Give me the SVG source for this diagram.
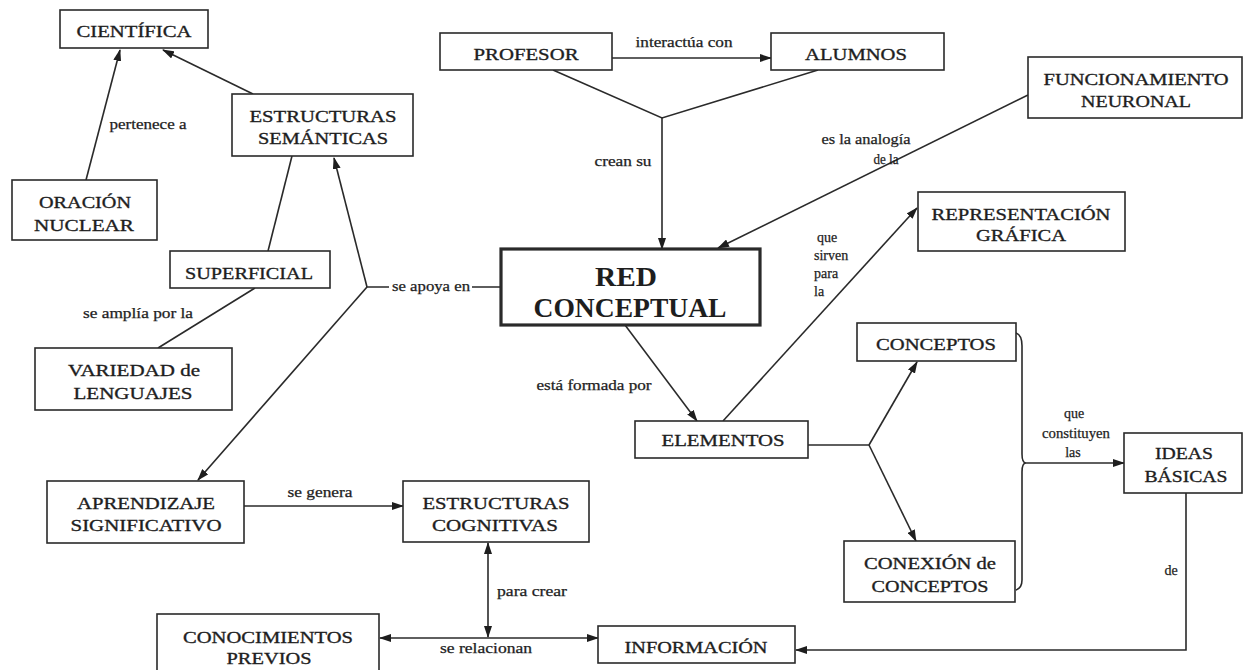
<svg xmlns="http://www.w3.org/2000/svg" width="1244" height="670" viewBox="0 0 1244 670">
<style>
.box{fill:#fff;stroke:#2a2a2a;stroke-width:1.6}
.thick{stroke-width:3.2}
.e{fill:none;stroke:#2a2a2a;stroke-width:1.6}
.a{marker-end:url(#ah)}
.b{marker-start:url(#ah);marker-end:url(#ah)}
text{font-family:"Liberation Serif","Times New Roman",serif;fill:#1e1e1e}
.n{font-size:17.5px;text-anchor:middle;stroke:#1e1e1e;stroke-width:0.35}
.r{font-size:27px;font-weight:bold;text-anchor:middle}
.l{font-size:14px;stroke:#1e1e1e;stroke-width:0.25}
.c{text-anchor:middle}
</style>
<defs>
<marker id="ah" markerUnits="userSpaceOnUse" markerWidth="12" markerHeight="8" refX="11" refY="4" orient="auto-start-reverse" viewBox="0 0 12 8">
<path d="M0,0 L12,4 L0,8 z" fill="#1e1e1e"/>
</marker>
</defs>

<g id="connectors">
<path class="e a" d="M86,180 L120,50"/>
<path class="e a" d="M253,94 L163,50"/>
<path class="e" d="M268,251 L292,156"/>
<path class="e" d="M255,288 L158,348"/>
<path class="e a" d="M367,287 L334,158"/>
<path class="e a" d="M367,287 L198,480"/>
<path class="e" d="M367,287 L389,287 M472,287 L501,287"/>
<path class="e a" d="M612,58 L771,58"/>
<path class="e" d="M553,70 L662,118 L818,70"/>
<path class="e a" d="M662,118 L662,249"/>
<path class="e a" d="M1028,95 L718,248"/>
<path class="e a" d="M723,421 L917,208"/>
<path class="e a" d="M625,325 L697,421"/>
<path class="e" d="M808,445 L869,445"/>
<path class="e a" d="M869,445 L917,362"/>
<path class="e a" d="M869,445 L916,541"/>
<path class="e" d="M1016,333 Q1022,335 1022,346 L1022,454 Q1022,463 1026,463 Q1022,463 1022,472 L1022,580 Q1022,588 1016,590"/>
<path class="e a" d="M1026,463 L1124,463"/>
<path class="e a" d="M1186,493 L1186,650 L796,650"/>
<path class="e a" d="M244,506 L403,506"/>
<path class="e b" d="M488,543 L488,637"/>
<path class="e b" d="M380,638 L598,638"/>
</g>

<g id="labels">
<text class="l c" x="148" y="129" textLength="77" lengthAdjust="spacingAndGlyphs">pertenece a</text>
<text class="l c" x="684" y="47" textLength="97" lengthAdjust="spacingAndGlyphs">interactúa con</text>
<text class="l c" x="623" y="166" textLength="57" lengthAdjust="spacingAndGlyphs">crean su</text>
<text class="l c" x="866" y="144" textLength="89" lengthAdjust="spacingAndGlyphs">es la analogía</text>
<text class="l c" x="886" y="164" textLength="25" lengthAdjust="spacingAndGlyphs">de la</text>
<text class="l" x="817" y="242">que</text>
<text class="l" x="814" y="260">sirven</text>
<text class="l" x="814" y="278">para</text>
<text class="l" x="814" y="296">la</text>
<text class="l c" x="431" y="291" textLength="78" lengthAdjust="spacingAndGlyphs">se apoya en</text>
<text class="l c" x="138" y="318" textLength="110" lengthAdjust="spacingAndGlyphs">se amplía por la</text>
<text class="l c" x="594" y="390" textLength="115" lengthAdjust="spacingAndGlyphs">está formada por</text>
<text class="l c" x="1074" y="418">que</text>
<text class="l c" x="1076" y="438" textLength="68" lengthAdjust="spacingAndGlyphs">constituyen</text>
<text class="l c" x="1073" y="457">las</text>
<text class="l c" x="320" y="497" textLength="65" lengthAdjust="spacingAndGlyphs">se genera</text>
<text class="l c" x="532" y="596" textLength="70" lengthAdjust="spacingAndGlyphs">para crear</text>
<text class="l c" x="486" y="653" textLength="92" lengthAdjust="spacingAndGlyphs">se relacionan</text>
<text class="l c" x="1171" y="575">de</text>
</g>

<g id="n-cientifica"><rect class="box" x="60" y="10" width="148" height="38"/><text class="n" x="134" y="37" textLength="115" lengthAdjust="spacingAndGlyphs">CIENTÍFICA</text></g>
<g id="n-estr-sem"><rect class="box" x="232" y="94" width="181" height="62"/><text class="n" x="323" y="122" textLength="147" lengthAdjust="spacingAndGlyphs">ESTRUCTURAS</text><text class="n" x="323" y="144" textLength="130" lengthAdjust="spacingAndGlyphs">SEMÁNTICAS</text></g>
<g id="n-oracion"><rect class="box" x="12" y="180" width="145" height="60"/><text class="n" x="85" y="208" textLength="92" lengthAdjust="spacingAndGlyphs">ORACIÓN</text><text class="n" x="84" y="231" textLength="100" lengthAdjust="spacingAndGlyphs">NUCLEAR</text></g>
<g id="n-superficial"><rect class="box" x="170" y="251" width="160" height="37"/><text class="n" x="249" y="279" textLength="128" lengthAdjust="spacingAndGlyphs">SUPERFICIAL</text></g>
<g id="n-variedad"><rect class="box" x="35" y="348" width="197" height="62"/><text class="n" x="134" y="376" textLength="132" lengthAdjust="spacingAndGlyphs">VARIEDAD de</text><text class="n" x="133" y="399" textLength="119" lengthAdjust="spacingAndGlyphs">LENGUAJES</text></g>
<g id="n-profesor"><rect class="box" x="440" y="33" width="172" height="37"/><text class="n" x="526" y="60" textLength="105" lengthAdjust="spacingAndGlyphs">PROFESOR</text></g>
<g id="n-alumnos"><rect class="box" x="771" y="33" width="173" height="37"/><text class="n" x="856" y="60" textLength="102" lengthAdjust="spacingAndGlyphs">ALUMNOS</text></g>
<g id="n-funcionamiento"><rect class="box" x="1028" y="57" width="214" height="61"/><text class="n" x="1136" y="85" textLength="185" lengthAdjust="spacingAndGlyphs">FUNCIONAMIENTO</text><text class="n" x="1136" y="107" textLength="110" lengthAdjust="spacingAndGlyphs">NEURONAL</text></g>
<g id="n-representacion"><rect class="box" x="918" y="192" width="207" height="59"/><text class="n" x="1021" y="220" textLength="179" lengthAdjust="spacingAndGlyphs">REPRESENTACIÓN</text><text class="n" x="1021" y="241" textLength="90" lengthAdjust="spacingAndGlyphs">GRÁFICA</text></g>
<g id="n-red"><rect class="box thick" x="501" y="249" width="259" height="76"/><text class="r" x="626" y="286" textLength="62" lengthAdjust="spacingAndGlyphs">RED</text><text class="r" x="630" y="317" textLength="193" lengthAdjust="spacingAndGlyphs">CONCEPTUAL</text></g>
<g id="n-elementos"><rect class="box" x="635" y="421" width="173" height="37"/><text class="n" x="723" y="446" textLength="123" lengthAdjust="spacingAndGlyphs">ELEMENTOS</text></g>
<g id="n-conceptos"><rect class="box" x="857" y="323" width="159" height="38"/><text class="n" x="936" y="350" textLength="120" lengthAdjust="spacingAndGlyphs">CONCEPTOS</text></g>
<g id="n-conexion"><rect class="box" x="844" y="541" width="171" height="61"/><text class="n" x="930" y="569" textLength="132" lengthAdjust="spacingAndGlyphs">CONEXIÓN de</text><text class="n" x="930" y="592" textLength="117" lengthAdjust="spacingAndGlyphs">CONCEPTOS</text></g>
<g id="n-ideas"><rect class="box" x="1124" y="433" width="118" height="60"/><text class="n" x="1184" y="459" textLength="58" lengthAdjust="spacingAndGlyphs">IDEAS</text><text class="n" x="1186" y="482" textLength="83" lengthAdjust="spacingAndGlyphs">BÁSICAS</text></g>
<g id="n-aprendizaje"><rect class="box" x="47" y="481" width="197" height="62"/><text class="n" x="146" y="509" textLength="138" lengthAdjust="spacingAndGlyphs">APRENDIZAJE</text><text class="n" x="146" y="531" textLength="151" lengthAdjust="spacingAndGlyphs">SIGNIFICATIVO</text></g>
<g id="n-estr-cog"><rect class="box" x="403" y="481" width="186" height="61"/><text class="n" x="496" y="509" textLength="147" lengthAdjust="spacingAndGlyphs">ESTRUCTURAS</text><text class="n" x="495" y="531" textLength="126" lengthAdjust="spacingAndGlyphs">COGNITIVAS</text></g>
<g id="n-conocimientos"><rect class="box" x="157" y="614" width="222" height="62"/><text class="n" x="268" y="643" textLength="170" lengthAdjust="spacingAndGlyphs">CONOCIMIENTOS</text><text class="n" x="269" y="664" textLength="85" lengthAdjust="spacingAndGlyphs">PREVIOS</text></g>
<g id="n-informacion"><rect class="box" x="598" y="626" width="197" height="37"/><text class="n" x="696" y="653" textLength="143" lengthAdjust="spacingAndGlyphs">INFORMACIÓN</text></g>
</svg>
